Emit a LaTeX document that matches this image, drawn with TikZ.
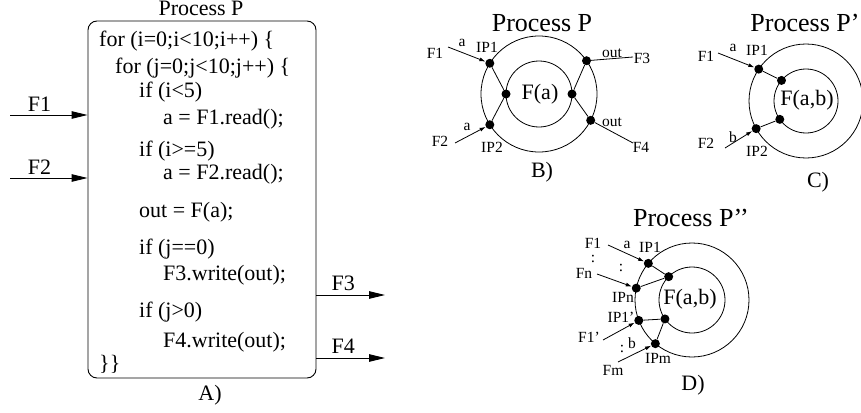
\documentclass[tikz,border=0pt]{standalone}
\usepackage{fontspec}
\setmainfont{Liberation Serif}
\usetikzlibrary{arrows.meta, calc, positioning}

\begin{document}
\begin{tikzpicture}[x=1pt, y=-1pt,
    codeText/.style={anchor=base west, inner sep=0pt, font=\fontsize{22}{24}\selectfont},
    bigText/.style={inner sep=0pt, font=\fontsize{22}{24}\selectfont},
    titleText/.style={inner sep=0pt, font=\fontsize{26}{28}\selectfont},
    smallText/.style={inner sep=0pt, font=\fontsize{15.5}{17}\selectfont},
    port/.style={circle, fill=black, inner sep=0pt, minimum size=9pt},
    bigArrow/.style={line width=0.9pt, -{Triangle[length=16pt, width=7.5pt]}},
    smallArrow/.style={line width=0.8pt, -{Latex[length=6pt, width=4pt]}},
    link/.style={line width=0.8pt}]

    % Fix the page size
    \useasboundingbox (0,0) rectangle (861,412);

    % ---------------- A) process written as code ----------------
    \node[draw, line width=0.9pt, rounded corners=9pt, minimum width=228pt,
          minimum height=357pt, inner sep=0pt] (procA) at (202,199.5) {};
    \node[bigText, anchor=base] (titleA) at (201,16) {Process P};
    \node[bigText, anchor=base] (capA) at (210,400) {A)};

    % Code lines
    \foreach \txt/\xx/\yy [count=\n] in {
        {for (i=0;i<10;i++) \{}/99/46,
        {for (j=0;j<10;j++) \{}/115/74,
        {if (i<5)}/139/97,
        {a = F1.read();}/163/124,
        {if (i>=5)}/139/156,
        {a = F2.read();}/163/179,
        {out = F(a);}/139/217,
        {if (j==0)}/139/254,
        {F3.write(out);}/163/280,
        {if (j>0)}/139/317,
        {F4.write(out);}/163/347,
        {\}\}}/99/370}
        \node[codeText] (code\n) at (\xx,\yy) {\txt};

    % Input and output streams
    \coordinate (inF1) at (10,115);
    \coordinate (inF2) at (10,178);
    \coordinate (outF3) at (385,295);
    \coordinate (outF4) at (385,358);
    \draw[bigArrow] (inF1) -- (inF1 -| procA.west)
        node[bigText, pos=0.38, above=3pt] (lblAF1) {F1};
    \draw[bigArrow] (inF2) -- (inF2 -| procA.west)
        node[bigText, pos=0.38, above=3pt] (lblAF2) {F2};
    \draw[bigArrow] (outF3 -| procA.east) -- (outF3)
        node[bigText, pos=0.39, above=4pt] (lblAF3) {F3};
    \draw[bigArrow] (outF4 -| procA.east) -- (outF4)
        node[bigText, pos=0.39, above=4pt] (lblAF4) {F4};

    % ---------------- B) one function, two input ports ----------------
    \coordinate (cB) at (539,94);
    \draw[link] (cB) circle[radius=58pt];
    \draw[link] (cB) circle[radius=33pt];
    \node[titleText] (titleB) at (542,23) {Process P};
    \node[bigText] (funB) at (540,94) {F(a)};
    \node[bigText] (capB) at (542,172) {B)};

    % Ports on the circles
    \node[port] (B1) at ($(cB)+(148:58pt)$) {};
    \node[port] (B2) at ($(cB)+(212:58pt)$) {};
    \node[port] (B3) at ($(cB)+(35:58pt)$) {};
    \node[port] (B4) at ($(cB)+(-27:58pt)$) {};
    \node[port] (B5) at ($(cB)+(180:33pt)$) {};
    \node[port] (B6) at ($(cB)+(0:33pt)$) {};
    \draw[link] (B1) -- (B5);
    \draw[link] (B2) -- (B5);
    \draw[link] (B6) -- (B3);
    \draw[link] (B6) -- (B4);

    % Streams
    \coordinate (B-in1) at (448,47);
    \coordinate (B-in2) at (455,143);
    \coordinate (B-out3) at (633,57);
    \coordinate (B-out4) at (633,143);
    \draw[smallArrow] (B-in1) -- (B1);
    \draw[smallArrow] (B-in2) -- (B2);
    \draw[link] (B3) -- (B-out3);
    \draw[link] (B4) -- (B-out4);
    \node[smallText] (lblBF1) at (435,53) {F1};
    \node[smallText] (lblBa1) at (462,43) {a};
    \node[smallText] (lblBIP1) at (487,47) {IP1};
    \node[smallText] (lblBF2) at (440,141) {F2};
    \node[smallText] (lblBa2) at (467,127) {a};
    \node[smallText] (lblBIP2) at (492,147) {IP2};
    \node[smallText] (lblBo3) at (612,53) {out};
    \node[smallText] (lblBF3) at (642,58) {F3};
    \node[smallText] (lblBo4) at (612,122) {out};
    \node[smallText] (lblBF4) at (641,147) {F4};

    % ---------------- C) one function, two arguments ----------------
    \coordinate (cC) at (806,101);
    \draw[link] (cC) circle[radius=57pt];
    \draw[link] (cC) circle[radius=32pt];
    \node[titleText] (titleC) at (805,23) {Process P’};
    \node[bigText] (funC) at (807,100) {F(a,b)};
    \node[bigText] (capC) at (818,182) {C)};

    \node[port] (C1) at ($(cC)+(146:57pt)$) {};
    \node[port] (C2) at ($(cC)+(209:57pt)$) {};
    \node[port] (C3) at ($(cC)+(140:32pt)$) {};
    \node[port] (C4) at ($(cC)+(215:32pt)$) {};
    \draw[link] (C1) -- (C3);
    \draw[link] (C2) -- (C4);

    \coordinate (C-in1) at (718,53);
    \coordinate (C-in2) at (725,148);
    \draw[smallArrow] (C-in1) -- (C1);
    \draw[smallArrow] (C-in2) -- (C2);
    \node[smallText] (lblCF1) at (706,56) {F1};
    \node[smallText] (lblCa) at (733,48) {a};
    \node[smallText] (lblCIP1) at (757,50) {IP1};
    \node[smallText] (lblCF2) at (706,143) {F2};
    \node[smallText] (lblCb) at (733,137) {b};
    \node[smallText] (lblCIP2) at (757,151) {IP2};

    % ---------------- D) many inputs per argument ----------------
    \coordinate (cD) at (692,300);
    \draw[link] (cD) circle[radius=57pt];
    \draw[link] (cD) circle[radius=33pt];
    \node[titleText] (titleD) at (691,218) {Process P’’};
    \node[bigText] (funD) at (690,299) {F(a,b)};
    \node[bigText] (capD) at (693,385) {D)};

    \node[port] (D1) at ($(cD)+(140:57pt)$) {};
    \node[port] (D2) at ($(cD)+(168:57pt)$) {};
    \node[port] (D3) at ($(cD)+(201:57pt)$) {};
    \node[port] (D4) at ($(cD)+(230:57pt)$) {};
    \node[port] (D5) at ($(cD)+(135:33pt)$) {};
    \node[port] (D6) at ($(cD)+(215:33pt)$) {};
    \draw[link] (D1) -- (D5);
    \draw[link] (D2) -- (D5);
    \draw[link] (D3) -- (D6);
    \draw[link] (D4) -- (D6);

    \coordinate (D-in1) at (608,245);
    \coordinate (D-in2) at (597,274);
    \coordinate (D-in3) at (603,340);
    \coordinate (D-in4) at (618,362);
    \draw[smallArrow] (D-in1) -- (D1);
    \draw[smallArrow] (D-in2) -- (D2);
    \draw[smallArrow] (D-in3) -- (D3);
    \draw[smallArrow] (D-in4) -- (D4);
    \node[smallText] (lblDF1) at (593,243) {F1};
    \node[smallText] (lblDv1) at (593,259) {:};
    \node[smallText] (lblDa) at (627,245) {a};
    \node[smallText] (lblDIP1) at (650,247) {IP1};
    \node[smallText] (lblDv2) at (621,268) {:};
    \node[smallText] (lblDFn) at (584,273) {Fn};
    \node[smallText] (lblDIPn) at (623,297) {IPn};
    \node[smallText] (lblDIP1b) at (621,317) {IP1’};
    \node[smallText] (lblDF1b) at (589,337) {F1’};
    \node[smallText] (lblDv3) at (622,349) {:};
    \node[smallText] (lblDb) at (632,343) {b};
    \node[smallText] (lblDFm) at (613,370) {Fm};
    \node[smallText] (lblDIPm) at (658,358) {IPm};

\end{tikzpicture}
\end{document}
